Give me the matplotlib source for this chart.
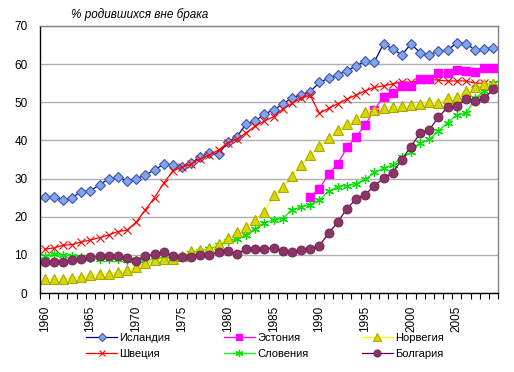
import numpy as np
import matplotlib.pyplot as plt

plt.rcParams['font.family'] = ['Liberation Sans', 'DejaVu Sans']

years = list(range(1960, 2010))

iceland = [25.1, 25.2, 24.4, 25.0, 26.6, 26.8, 28.4, 29.9, 30.4, 29.4,
           29.9, 31.0, 32.2, 33.8, 33.6, 33.0, 34.1, 35.7, 36.8, 36.4,
           39.6, 41.0, 44.3, 45.1, 46.9, 48.0, 49.5, 51.2, 51.9, 52.8,
           55.2, 56.3, 57.2, 58.2, 59.5, 60.8, 60.6, 65.3, 64.0, 62.4,
           65.3, 63.0, 62.4, 63.5, 63.6, 65.6, 65.4, 63.7, 64.0, 64.3]
sweden = [11.5, 11.8, 12.5, 12.7, 13.4, 13.9, 14.5, 15.2, 16.1, 16.5,
          18.6, 21.8, 25.0, 28.8, 32.0, 33.0, 33.8, 35.2, 36.2, 37.5,
          39.4, 40.3, 42.0, 43.8, 45.1, 46.2, 48.2, 49.7, 51.1, 51.8,
          47.1, 48.4, 49.6, 50.8, 51.9, 53.0, 53.9, 54.3, 54.8, 55.4,
          55.2, 55.8, 56.0, 55.8, 55.6, 55.6, 55.6, 55.0, 55.0, 54.5]
estonia = [np.nan] * 29 + [25.2, 27.3, 31.2, 33.8, 38.2, 41.0, 44.0, 48.0,
                           51.5, 52.5, 54.3, 54.3, 56.2, 56.2, 57.8, 57.8,
                           58.5, 58.3, 57.9, 59.0, 59.1]
norway = [3.7, 3.7, 3.8, 3.9, 4.3, 4.6, 4.9, 5.1, 5.5, 6.0,
          6.7, 7.8, 8.7, 8.9, 9.0, 9.8, 10.9, 11.4, 11.8, 12.8,
          14.3, 15.9, 17.4, 19.2, 21.2, 25.7, 27.8, 30.7, 33.5, 36.2,
          38.5, 40.6, 42.7, 44.2, 45.6, 47.4, 48.1, 48.6, 48.8, 48.9,
          49.2, 49.5, 50.1, 49.7, 51.1, 51.5, 52.9, 54.1, 54.7, 54.9]
slovenia = [9.6, 10.1, 10.0, 9.7, 9.4, 9.1, 8.8, 8.8, 8.9, 8.6,
            8.6, 8.7, 8.7, 8.9, 9.1, 9.5, 10.6, 11.1, 11.6, 12.5,
            13.6, 14.1, 15.3, 16.9, 18.3, 19.2, 19.5, 21.8, 22.6, 23.2,
            24.4, 26.7, 27.9, 28.1, 28.7, 29.8, 31.6, 32.7, 33.6, 35.6,
            36.9, 39.2, 40.3, 42.5, 44.7, 46.7, 47.1, 51.0, 53.0, 55.0]
bulgaria = [8.1, 8.1, 8.2, 8.6, 8.9, 9.4, 9.6, 9.7, 9.7, 9.3,
            8.5, 9.7, 10.1, 10.8, 9.7, 9.5, 9.4, 9.9, 10.0, 10.7,
            11.0, 10.2, 11.5, 11.5, 11.5, 11.9, 11.1, 10.7, 11.2, 11.6,
            12.4, 15.6, 18.6, 22.1, 24.6, 25.8, 28.1, 30.1, 31.5, 35.0,
            38.4, 41.9, 42.8, 46.1, 48.7, 49.0, 50.8, 50.3, 51.0, 53.4]

series = [
    ('Исландия', iceland, '#000080', dict(marker='D', ms=5, mfc='#7FA6E8', mec='#3F51B0', mew=0.8)),
    ('Швеция', sweden, '#FF0000', dict(marker='x', ms=5.5, mec='#FF0000', mew=0.8)),
    ('Эстония', estonia, '#FF00FF', dict(marker='s', ms=6, mfc='#FF00FF', mec='#FF00FF')),
    ('Словения', slovenia, '#00FF00', dict(marker=(6, 2, 0), ms=6.5, mec='#00E000', mew=0.9)),
    ('Норвегия', norway, '#FFFF00', dict(marker='^', ms=6.5, mfc='#D8D800', mec='#A8A800', mew=0.8)),
    ('Болгария', bulgaria, '#660066', dict(marker='o', ms=6.5, mfc='#8B3465', mec='#6E2050', mew=0.6)),
]

fig = plt.figure(figsize=(5.14, 3.72), dpi=100)
ax = fig.add_axes([40 / 514, 79 / 372, 458 / 514, 267 / 372])

x = np.arange(len(years))
for name, vals, col, mk in series:
    ax.plot(x, vals, color=col, lw=0.9, label=name, **mk)

ax.set_xlim(-0.5, len(years) - 0.5)
ax.set_ylim(0, 70)
ax.set_yticks(range(0, 71, 10))
ax.yaxis.grid(True, color='#B0B0B0', lw=1)
ax.set_axisbelow(True)
ax.tick_params(axis='y', length=0, pad=9, labelsize=8.5)

ax.set_xticks(x[::5])
ax.set_xticklabels([str(y) for y in years[::5]], rotation=90)
ax.set_xticks(np.arange(-0.5, len(years), 1), minor=True)
ax.tick_params(axis='x', which='major', length=0, pad=9, labelsize=8.5)
ax.tick_params(axis='x', which='minor', length=4, width=0.8, direction='out')

for s in ['left', 'bottom']:
    ax.spines[s].set_color('black')
    ax.spines[s].set_linewidth(1)
for s in ['top', 'right']:
    ax.spines[s].set_color('#808080')
    ax.spines[s].set_linewidth(1)

fig.text(140 / 514, 1 - 15 / 372, '% родившихся вне брака', ha='center', va='center',
         style='italic', fontsize=8.5)

fig.legend(loc='upper left', bbox_to_anchor=(86 / 514, 1 - 333 / 372), ncol=3,
           frameon=False, fontsize=8, handlelength=2.8, handletextpad=0.2,
           columnspacing=4.8, labelspacing=0.5, borderpad=0, borderaxespad=0,
           markerscale=0.8)

fig.savefig('out.png', dpi=100)
